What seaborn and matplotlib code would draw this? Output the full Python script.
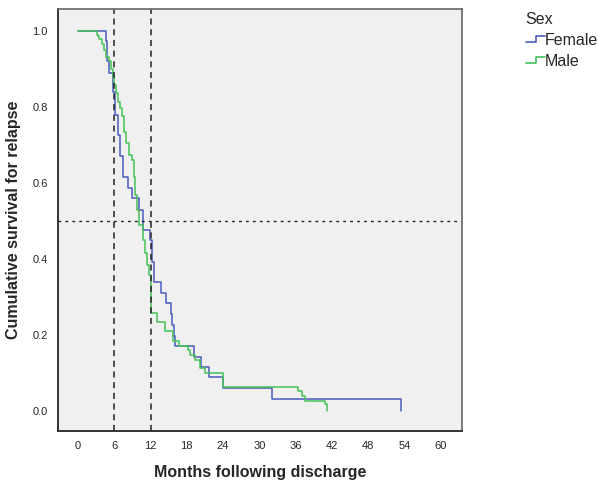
import matplotlib
matplotlib.use("Agg")
import matplotlib.pyplot as plt
import pandas as pd
import seaborn as sns
from matplotlib.legend_handler import HandlerBase
from matplotlib.lines import Line2D

# Kaplan-Meier step values
female_months = [0, 4.6, 4.75, 5.1, 5.85, 6.1, 6.55, 6.9, 7.5, 8.3, 9.0, 10.1, 10.75,
                 11.9, 12.2, 12.6, 13.7, 14.5, 15.4, 15.6, 15.9, 16.0, 19.2, 20.3,
                 21.7, 23.9, 32.1, 53.4]
female_surv = [1.0, 0.975, 0.92, 0.89, 0.84, 0.78, 0.726, 0.67, 0.617, 0.587, 0.56, 0.53,
               0.476, 0.45, 0.393, 0.338, 0.31, 0.284, 0.255, 0.226, 0.196, 0.171, 0.143,
               0.115, 0.088, 0.06, 0.03, 0.0]

male_months = [0, 3.1, 3.3, 3.5, 4.0, 4.35, 4.6, 5.2, 5.4, 5.75, 6.0, 6.25, 6.67, 6.95,
               7.2, 7.6, 7.95, 8.5, 8.9, 9.25, 9.4, 9.7, 10.1, 10.7, 11.05, 11.35, 11.8,
               12.05, 13.0, 14.4, 15.65, 16.7, 18.2, 18.6, 19.3, 20.2, 21.0, 23.9, 36.4,
               37.0, 37.6, 40.8, 41.2]
male_surv = [1.0, 0.99, 0.987, 0.979, 0.967, 0.95, 0.932, 0.92, 0.9, 0.88, 0.858, 0.836,
             0.814, 0.797, 0.775, 0.735, 0.704, 0.674, 0.66, 0.617, 0.568, 0.528, 0.49,
             0.45, 0.415, 0.384, 0.358, 0.258, 0.235, 0.21, 0.184, 0.171, 0.16, 0.147,
             0.134, 0.112, 0.1, 0.064, 0.051, 0.04, 0.027, 0.018, 0.0]

x_ticks = [0, 6, 12, 18, 24, 30, 36, 42, 48, 54, 60]
y_ticks = [0.0, 0.2, 0.4, 0.6, 0.8, 1.0]
ref_months = [6, 12]
ref_surv = 0.5

df = pd.concat([
    pd.DataFrame({"Months": female_months, "Survival": female_surv, "Sex": "Female"}),
    pd.DataFrame({"Months": male_months, "Survival": male_surv, "Sex": "Male"}),
], ignore_index=True)

palette = {"Female": "#4a5cbf", "Male": "#45c257"}

sns.set_style("white")
plt.rcParams["font.family"] = ["Liberation Sans", "DejaVu Sans"]


class StepHandler(HandlerBase):
    def create_artists(self, legend, orig_handle, xdescent, ydescent, width, height,
                       fontsize, trans):
        xs = [-xdescent, -xdescent + width * 0.55, -xdescent + width * 0.55, -xdescent + width]
        ys = [height * 0.3, height * 0.3, height * 0.8, height * 0.8]
        line = Line2D(xs, ys, color=orig_handle.get_color(), lw=1.2, transform=trans)
        return [line]


fig = plt.figure(figsize=(5.98, 4.8), dpi=100)
ax = fig.add_axes([58 / 598, 49 / 480, 404 / 598, 422 / 480])
ax.set_facecolor("#f0f0f0")

sns.lineplot(data=df, x="Months", y="Survival", hue="Sex", palette=palette,
             estimator=None, drawstyle="steps-post", lw=1.1, ax=ax, legend=False)

for m in ref_months:
    ax.axvline(m, color="#222222", ls=(0, (4, 3)), lw=1.1)
ax.axhline(ref_surv, color="#222222", ls=(0, (2, 3)), lw=1.0)

ax.set_xlim(-3.3, 63.5)
ax.set_ylim(-0.053, 1.058)
ax.set_xticks(x_ticks)
ax.set_yticks(y_ticks)
ax.set_yticklabels([f"{v:.1f}" for v in y_ticks])
ax.tick_params(direction="out", length=4, width=1, labelsize=8, color="#333333")
for side in ["left", "bottom"]:
    ax.spines[side].set_color("#333333")
    ax.spines[side].set_linewidth(1.4)
for side in ["top", "right"]:
    ax.spines[side].set_color("#666666")
    ax.spines[side].set_linewidth(1.2)

ax.set_xlabel("Months following discharge", fontsize=11.5, fontweight="bold", labelpad=10)
ax.set_ylabel("Cumulative survival for relapse", fontsize=11.5, fontweight="bold", labelpad=8)

handles = [Line2D([], [], color=palette["Female"]), Line2D([], [], color=palette["Male"])]
leg = fig.legend(handles, ["Female", "Male"], title="Sex", loc="upper left",
                 bbox_to_anchor=(516 / 598, 1 - 2 / 480), frameon=False, fontsize=11.5,
                 title_fontsize=11.5, handlelength=1.2, handletextpad=0.0,
                 labelspacing=0.4, borderaxespad=0.2, handler_map={Line2D: StepHandler()})
leg._legend_box.align = "left"

fig.savefig("out.png", dpi=100)
